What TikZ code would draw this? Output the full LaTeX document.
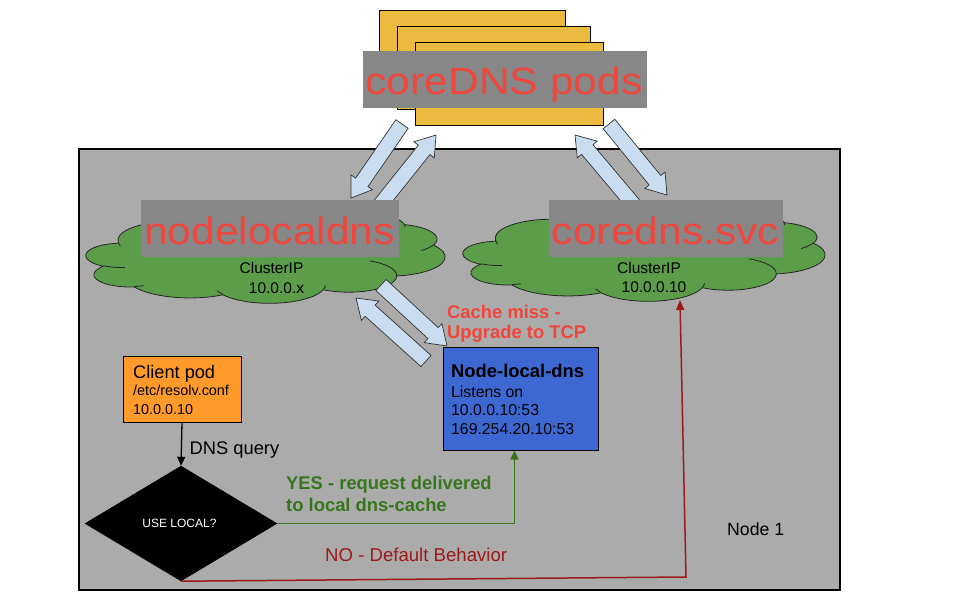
\documentclass[tikz,border=0pt]{standalone}
\usepackage{fontspec}
\setmainfont{Liberation Sans}
\usetikzlibrary{shapes.geometric,arrows.meta,calc}
\definecolor{bggray}{HTML}{ABABAB}
\definecolor{podyellow}{HTML}{EBBA3F}
\definecolor{lblgray}{HTML}{878787}
\definecolor{lblred}{HTML}{F2453B}
\definecolor{cgreen}{HTML}{5C9D49}
\definecolor{blkblue}{HTML}{CADDF0}
\definecolor{boxblue}{HTML}{3D68D2}
\definecolor{boxorange}{HTML}{FF9A2B}
\definecolor{yesgreen}{HTML}{38761D}
\definecolor{nored}{HTML}{9C1A1A}
\newcommand\blkarrow[2]{%
  \path ($(#2)!19pt!(#1)$) coordinate (bhC);
  \draw[blk] ($(#1)!7.5pt!90:(#2)$) -- ($(bhC)!7.5pt!-90:(#1)$) -- ($(bhC)!13pt!-90:(#1)$) -- (#2) -- ($(bhC)!13pt!90:(#1)$) -- ($(bhC)!7.5pt!90:(#1)$) -- ($(#1)!7.5pt!-90:(#2)$) -- cycle;}
\tikzset{
  oarc/.style n args={4}{insert path={arc[start angle={atan2((#1)*sin(#3),(#2)*cos(#3))}, delta angle={mod(atan2((#1)*sin((#3)+(#4)),(#2)*cos((#3)+(#4)))-atan2((#1)*sin(#3),(#2)*cos(#3))+720,360)}, x radius=#1, y radius=#2]}},
  cloudsty/.style={draw=black!85, line width=0.8pt, fill=cgreen, line join=round},
  cloudin/.style={draw=black!85, line width=0.8pt},
  blk/.style={fill=blkblue, draw=black!80, line width=0.7pt, line join=miter},
  podrect/.style={fill=podyellow, draw=black, line width=1pt},
  lblbox/.style={fill=lblgray, draw=none, inner sep=0pt},
  bigred/.style={text=lblred, inner sep=0pt, anchor=base, font=\fontsize{38}{44}\selectfont},
  ctext/.style={font=\fontsize{15.5}{18}\selectfont, inner sep=0pt, anchor=base},
  txt/.style={inner sep=0pt, anchor=base west},
  boxnode/.style={draw=black, line width=1pt, inner sep=0pt},
}
\newcommand\officecloud[4]{%
\begin{scope}[shift={(#1,#2)}, xscale=#3, yscale=-#4, x=1pt, y=1pt]
 \draw[cloudsty] (90.28,332.64)
   [oarc={156.32}{212.73}{-190.4875}{123.7805}]
   [oarc={123.45}{168.22}{-144.1024}{89.9452}]
   [oarc={101.04}{137.62}{-145.8079}{99.7230}]
   [oarc={112.43}{152.66}{-130.9861}{117.2417}]
   [oarc={123.45}{168.36}{-78.7089}{109.0269}]
   [oarc={156.83}{213.43}{-46.2673}{130.2690}]
   [oarc={133.91}{182.11}{0.6250}{114.0333}]
   [oarc={156.30}{213.31}{22.4516}{115.1726}]
   [oarc={178.70}{244.05}{66.2426}{75.7110}]
   [oarc={100.93}{136.99}{-274.9421}{146.7356}]
   [oarc={100.58}{137.62}{-246.8285}{152.5189}]
   -- cycle;
 \draw[cloudin]
   (108.63,605.95) [oarc={100.58}{137.62}{86.7420}{26.4295}]
   (160.37,807.85) [oarc={100.93}{136.99}{73.6105}{11.4475}]
   (381.44,904.86) [oarc={156.30}{213.31}{137.6242}{14.0811}]
   (667.29,804.42) [oarc={156.30}{213.31}{6.4533}{15.9984}]
   (790.02,531.34) [oarc={133.91}{182.11}{-70.2924}{70.9174}]
   (967.55,355.42) [oarc={123.45}{168.36}{30.3180}{27.7515}]
   (887.13,125.60) [oarc={112.43}{152.66}{-13.7443}{14.8589}]
   (673.10,91.48) [oarc={112.43}{152.66}{-149.1815}{18.1954}]
   (512.52,109.26) [oarc={101.04}{137.62}{-163.4943}{17.6864}]
   (324.07,120.19) [oarc={156.32}{212.73}{-66.7070}{12.3194}]
   (95.53,365.49) [oarc={156.32}{212.73}{157.6544}{11.8582}];
\end{scope}}
\begin{document}
\begin{tikzpicture}[x=1pt,y=-1pt]
\useasboundingbox (0,0) rectangle (962,598);
% Node 1 background
\draw[fill=bggray, line width=1.2pt] (79,149) rectangle (840,590);
\node[txt, font=\fontsize{17.7}{20}\selectfont] (node1) at (727,535) {Node 1};
% coreDNS pods
\draw[podrect] (379,10) rectangle (565,100);
\draw[podrect] (397,26) rectangle (590,109);
\draw[podrect] (415,42) rectangle (603,125);
\node[lblbox, minimum width=284pt, minimum height=57pt] (podslbl) at (505,79.5) {};
\node[bigred] (podstxt) at (504,94) {\scalebox{1.12}[1]{coreDNS pods}};
% clouds
\officecloud{86}{213}{0.359}{0.090}
\officecloud{463}{211}{0.362}{0.090}
% block arrows
\coordinate (a1t) at (402,124); \coordinate (a1h) at (351,198);
\coordinate (a2t) at (372,215); \coordinate (a2h) at (436,135);
\coordinate (a3t) at (645,218); \coordinate (a3h) at (575,135);
\coordinate (a4t) at (609,124); \coordinate (a4h) at (667,195);
\coordinate (a5t) at (381,285); \coordinate (a5h) at (447,346);
\coordinate (a6t) at (426,361); \coordinate (a6h) at (356,298);
\blkarrow{a1t}{a1h}
\blkarrow{a2t}{a2h}
\blkarrow{a3t}{a3h}
\blkarrow{a4t}{a4h}
\blkarrow{a5t}{a5h}
\blkarrow{a6t}{a6h}
% cloud labels
\node[lblbox, minimum width=258pt, minimum height=57pt] (nllbl) at (270,228.5) {};
\node[bigred] (nltxt) at (269.5,244) {\scalebox{1.12}[1]{nodelocaldns}};
\node[lblbox, minimum width=234pt, minimum height=57pt] (svclbl) at (666,228.5) {};
\node[bigred] (svctxt) at (665.5,244) {\scalebox{1.12}[1]{coredns.svc}};
\node[ctext] (nlc1) at (271.5,273) {ClusterIP};
\node[ctext] (nlc2) at (276.5,293) {10.0.0.x};
\node[ctext] (svc1) at (649,273) {ClusterIP};
\node[ctext] (svc2) at (654,292) {10.0.0.10};
% Client pod
\node[boxnode, fill=boxorange, minimum width=118pt, minimum height=66pt] (client) at (182,389) {};
\node[txt, font=\fontsize{18.2}{21}\selectfont] (cl1) at (133,378) {Client pod};
\node[txt, font=\fontsize{14.4}{17}\selectfont] (cl2) at (133,395) {/etc/resolv.conf};
\node[txt, font=\fontsize{14.4}{17}\selectfont] (cl3) at (133,414) {10.0.0.10};
% Node-local-dns
\node[boxnode, fill=boxblue, minimum width=155pt, minimum height=103pt] (nld) at (520.5,398.5) {};
\node[txt, font=\bfseries\fontsize{18.4}{21}\selectfont] (nld1) at (451,377) {Node-local-dns};
\node[txt, font=\fontsize{15.8}{18}\selectfont] (nld2) at (451,397) {Listens on};
\node[txt, font=\fontsize{15.8}{18}\selectfont] (nld3) at (451,415) {10.0.0.10:53};
\node[txt, font=\fontsize{15.8}{18}\selectfont] (nld4) at (451,434) {169.254.20.10:53};
% cache miss
\node[txt, text=lblred, font=\bfseries\fontsize{18.4}{21}\selectfont] (cm1) at (447,318) {Cache miss -};
\node[txt, text=lblred, font=\bfseries\fontsize{18.4}{21}\selectfont] (cm2) at (447,338) {Upgrade to TCP};
% diamond
\node[diamond, fill=black, draw=black, inner sep=0pt, minimum width=192pt, minimum height=115pt] (diam) at (181,523.5) {};
\node[text=white, inner sep=0pt, font=\fontsize{12}{14}\selectfont] (diamtxt) at (179.5,523.5) {USE LOCAL?};
% DNS query
\draw[line width=1.3pt, -{Triangle[length=9pt,width=8pt]}] (client.south) -- (diam.north);
\node[txt, font=\fontsize{18.3}{21}\selectfont] (dnsq) at (189.5,454) {DNS query};
% YES
\draw[yesgreen, line width=1.5pt, -{Triangle[length=9pt,width=8pt]}] (diam.east) -| ([xshift=-6pt]nld.south);
\node[txt, text=yesgreen, font=\bfseries\fontsize{18.4}{21}\selectfont] (yes1) at (286,489) {YES - request delivered};
\node[txt, text=yesgreen, font=\bfseries\fontsize{18.4}{21}\selectfont] (yes2) at (286,511) {to local dns-cache};
% NO
\coordinate (svcin) at (680,300);
\draw[nored, line width=1.5pt, -{Triangle[length=10pt,width=8pt]}] (diam.south) -- (686,577) -- (svcin);
\node[txt, text=nored, font=\fontsize{18.6}{21}\selectfont] (no1) at (325,561) {NO - Default Behavior};
\end{tikzpicture}
\end{document}
